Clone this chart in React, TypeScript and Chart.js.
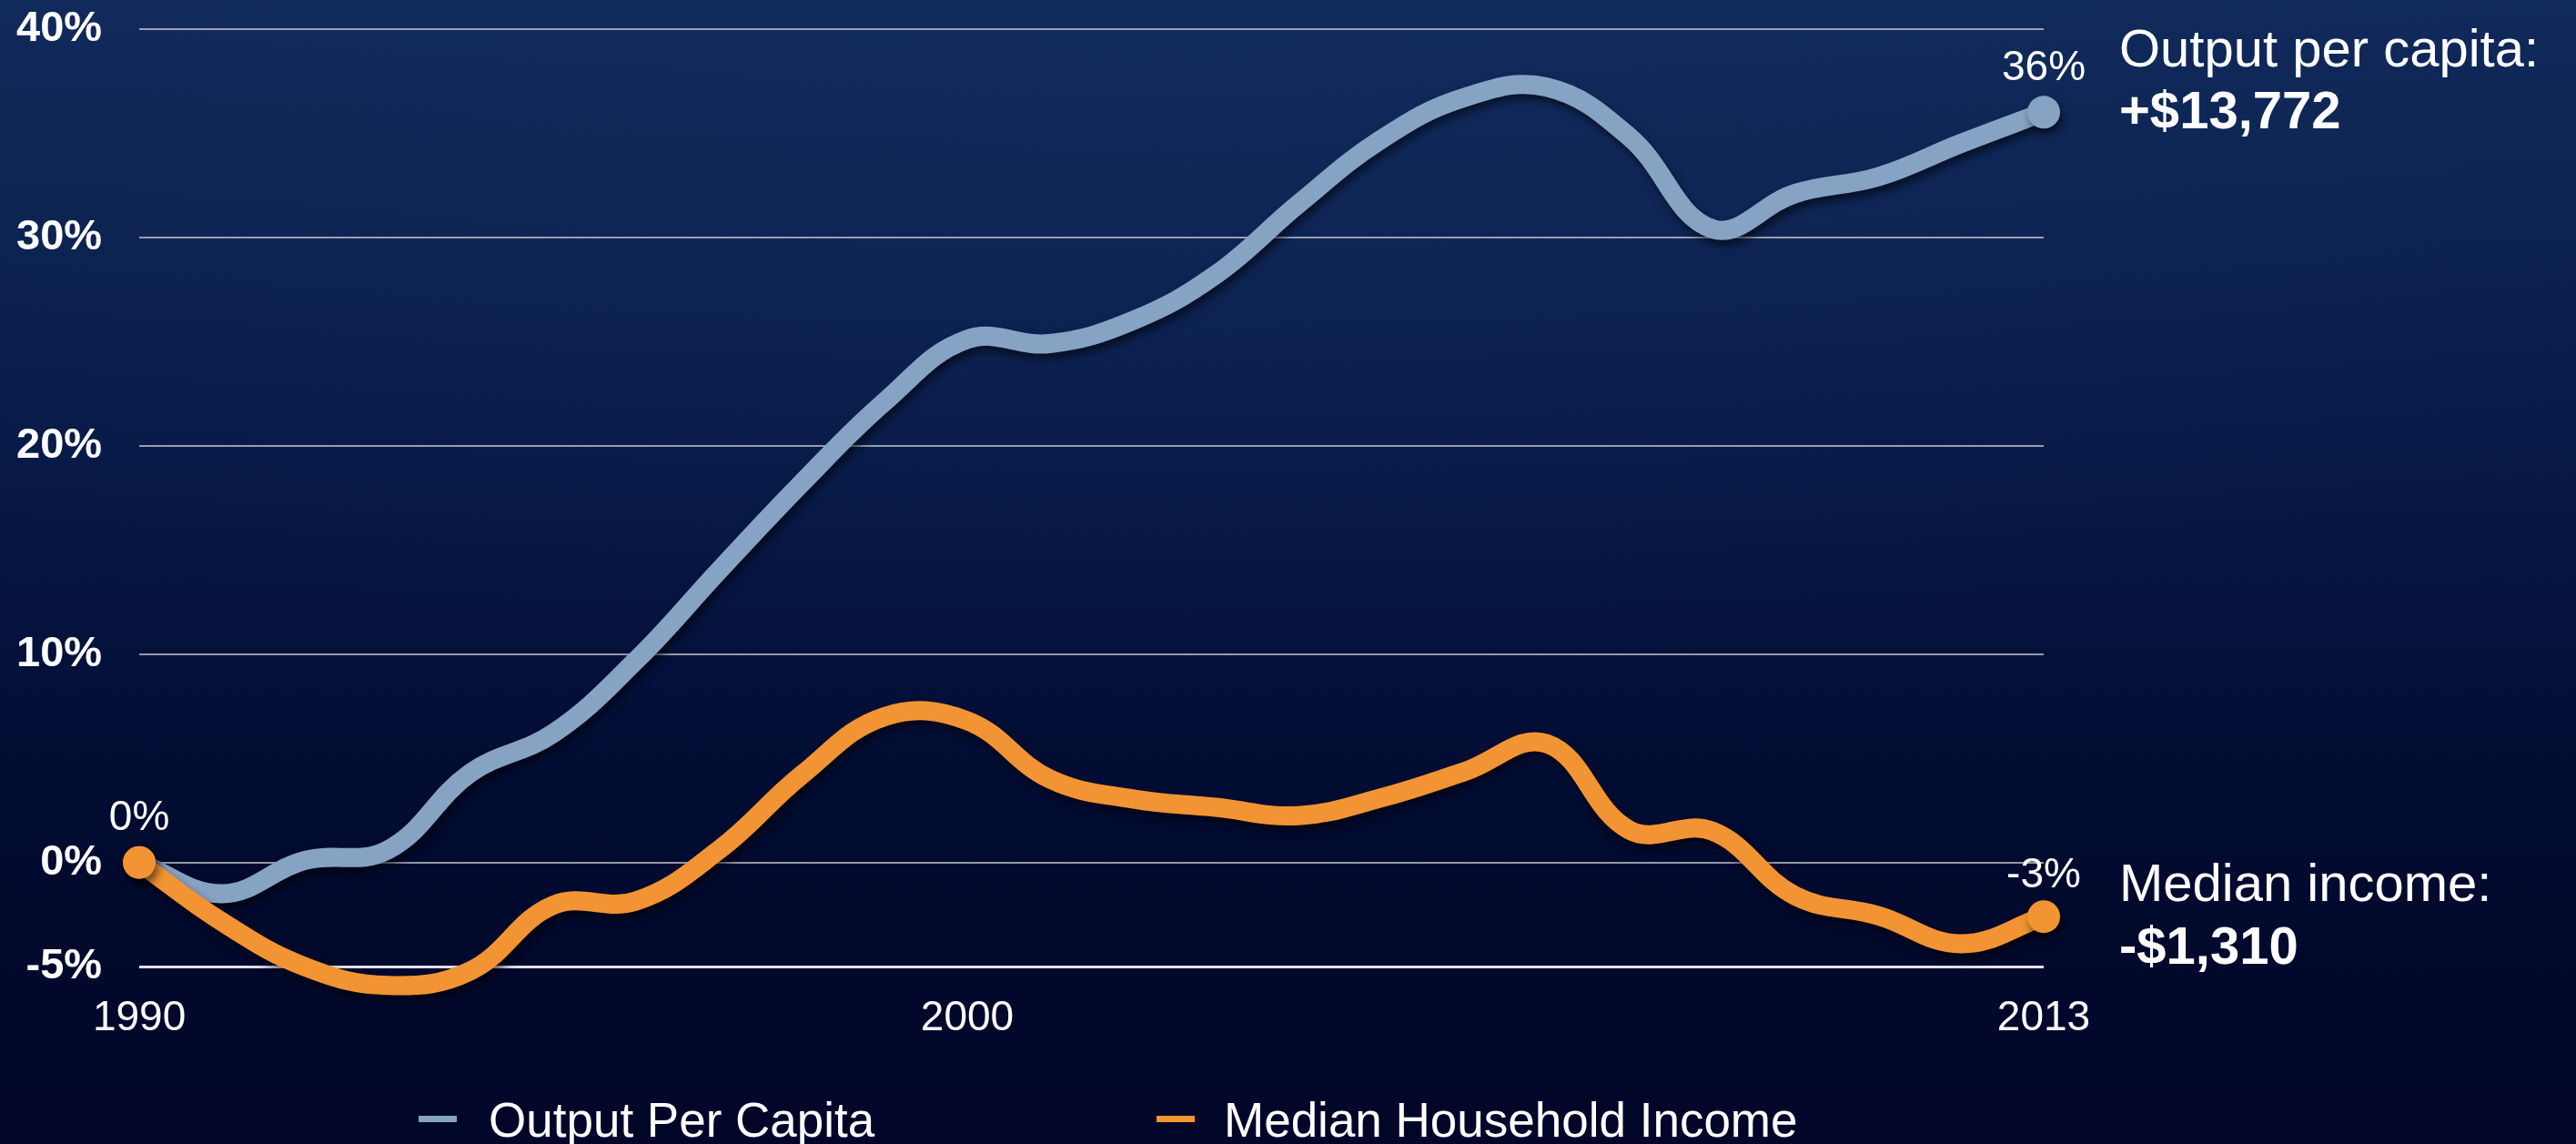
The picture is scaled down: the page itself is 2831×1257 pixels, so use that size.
import React, { useEffect, useRef } from "react";
import { Chart, registerables } from "chart.js";

Chart.register(...registerables);

// ---------- data ----------
const years = [
  1990, 1991, 1992, 1993, 1994, 1995, 1996, 1997, 1998, 1999, 2000, 2001,
  2002, 2003, 2004, 2005, 2006, 2007, 2008, 2009, 2010, 2011, 2012, 2013,
];
const outputPerCapita = [
  0, -1.5, 0.1, 0.6, 4.3, 6.2, 9.7, 14.0, 18.2, 22.1, 25.1, 24.9,
  26.0, 28.2, 31.6, 34.7, 36.7, 37.2, 34.8, 30.4, 32.1, 32.9, 34.5, 36.0,
];
const medianIncome = [
  0, -2.85, -5.0, -5.9, -5.2, -2.05, -1.85, 0.6, 4.2, 7.0, 6.8, 4.0,
  3.05, 2.65, 2.25, 3.1, 4.35, 5.7, 1.55, 1.5, -1.6, -2.55, -3.9, -2.6,
];
const seriesNames = ["Output Per Capita", "Median Household Income"];
const xTickValues = [1990, 2000, 2013];
const yTickValues = [-5, 0, 10, 20, 30, 40];
const calloutTitles = ["Output per capita:", "Median income:"];
const calloutValues = ["+$13,772", "-$1,310"];

// ---------- styles ----------
const W = 2831;
const H = 1257;
const FONT = '"Liberation Sans", "Helvetica Neue", Helvetica, Arial, sans-serif';
const BLUE = "#87a3c4";
const ORANGE = "#f29433";

const fmtPct = (v: number) => `${Math.round(v)}%`;

export default function App() {
  const canvasRef = useRef<HTMLCanvasElement | null>(null);

  useEffect(() => {
    document.body.style.margin = "0";
    const canvas = canvasRef.current;
    if (!canvas) return;

    const last = years.length - 1;
    const endRadius = (ctx: any) =>
      ctx.dataIndex === 0 || ctx.dataIndex === last ? 18 : 0;

    const shadowPlugin = {
      id: "lineShadow",
      beforeDatasetsDraw(chart: any) {
        const c = chart.ctx;
        c.save();
        c.shadowColor = "rgba(0,0,0,0.55)";
        c.shadowBlur = 10;
        c.shadowOffsetX = 3;
        c.shadowOffsetY = 6;
      },
      afterDatasetsDraw(chart: any) {
        chart.ctx.restore();
      },
    };

    const textPlugin = {
      id: "annotations",
      afterDraw(chart: any) {
        const c = chart.ctx;
        const xs = chart.scales.x;
        const ys = chart.scales.y;
        const area = chart.chartArea;
        c.save();
        c.fillStyle = "#ffffff";

        // end-point value labels
        c.font = `300 46px ${FONT}`;
        c.textAlign = "center";
        c.textBaseline = "alphabetic";
        c.fillText(
          fmtPct(medianIncome[0]),
          xs.getPixelForValue(years[0]),
          ys.getPixelForValue(medianIncome[0]) - 36
        );
        c.fillText(
          fmtPct(outputPerCapita[last]),
          xs.getPixelForValue(years[last]),
          ys.getPixelForValue(outputPerCapita[last]) - 35
        );
        c.fillText(
          fmtPct(medianIncome[last]),
          xs.getPixelForValue(years[last]),
          ys.getPixelForValue(medianIncome[last]) - 32
        );

        // right-hand callouts
        const cx = area.right + 83;
        c.textAlign = "left";
        const titleY = [73, 990];
        const valueY = [141, 1059];
        for (let i = 0; i < calloutTitles.length; i++) {
          c.font = `58px ${FONT}`;
          c.fillText(calloutTitles[i], cx, titleY[i]);
          c.font = `bold 58px ${FONT}`;
          c.fillText(calloutValues[i], cx, valueY[i]);
        }

        // legend
        const colors = [BLUE, ORANGE];
        const boxX = [460, 1271];
        const textX = [537, 1345];
        c.font = `53px ${FONT}`;
        for (let i = 0; i < seriesNames.length; i++) {
          c.fillStyle = colors[i];
          c.fillRect(boxX[i], 1226, 42, 7);
          c.fillStyle = "#ffffff";
          c.fillText(seriesNames[i], textX[i], 1249);
        }
        c.restore();
      },
    };

    const makeLine = (label: string, values: number[], color: string, order: number) => ({
      label,
      data: years.map((y, i) => ({ x: y, y: values[i] })),
      borderColor: color,
      backgroundColor: color,
      pointBackgroundColor: color,
      borderWidth: 21,
      tension: 0.4,
      pointRadius: endRadius,
      pointHoverRadius: endRadius,
      pointBorderWidth: 0,
      borderCapStyle: "round",
      borderJoinStyle: "round",
      fill: false,
      clip: false,
      order,
    });

    const chart = new Chart(canvas, {
      type: "line",
      data: {
        datasets: [
          makeLine(seriesNames[0], outputPerCapita, BLUE, 1),
          makeLine(seriesNames[1], medianIncome, ORANGE, 0),
        ],
      },
      options: {
        responsive: false,
        devicePixelRatio: 1,
        animation: false,
        layout: { padding: { left: 18, right: 585, top: 31.7, bottom: 109.6 } },
        plugins: {
          legend: { display: false },
          tooltip: { enabled: false },
        },
        scales: {
          x: {
            type: "linear",
            min: 1990,
            max: 2013,
            afterBuildTicks: (scale: any) => {
              scale.ticks = xTickValues.map((v) => ({ value: v }));
            },
            afterFit: (scale: any) => {
              scale.height = scale.height - scale.options.ticks.padding;
              scale.paddingLeft = 0;
              scale.paddingRight = 0;
            },
            ticks: {
              callback: (v: any) => String(v),
              color: "#ffffff",
              font: { family: FONT, size: 46 },
              padding: 30,
              maxRotation: 0,
              autoSkip: false,
            },
            grid: { display: false, drawTicks: false },
            border: { display: false },
          },
          y: {
            type: "linear",
            min: -5,
            max: 40,
            afterBuildTicks: (scale: any) => {
              scale.ticks = yTickValues.map((v) => ({ value: v }));
            },
            afterFit: (scale: any) => {
              scale.width = scale.width - scale.options.ticks.padding;
              scale.paddingTop = 0;
              scale.paddingBottom = 0;
            },
            ticks: {
              callback: (v: any) => `${v}%`,
              color: "#ffffff",
              font: { family: FONT, size: 47, weight: "bold" },
              padding: 41,
            },
            grid: {
              drawTicks: false,
              color: (ctx: any) =>
                ctx.tick && ctx.tick.value === -5
                  ? "rgba(235,235,245,0.95)"
                  : "rgba(200,200,210,0.75)",
              lineWidth: (ctx: any) => (ctx.tick && ctx.tick.value === -5 ? 3 : 2),
            },
            border: { display: false },
          },
        },
      } as any,
      plugins: [shadowPlugin, textPlugin],
    });

    return () => chart.destroy();
  }, []);

  return (
    <div
      style={{
        position: "relative",
        width: W,
        height: H,
        overflow: "hidden",
        background:
          "radial-gradient(ellipse 70% 60% at 45% 0%, rgba(20,46,96,0.45) 0%, rgba(20,46,96,0) 100%), linear-gradient(180deg, #10295a 0%, #0a1e4c 30%, #051440 50%, #020b30 72%, #010628 100%)",
      }}
    >
      <canvas
        ref={canvasRef}
        width={W}
        height={H}
        style={{ display: "block", width: W, height: H }}
      />
    </div>
  );
}
